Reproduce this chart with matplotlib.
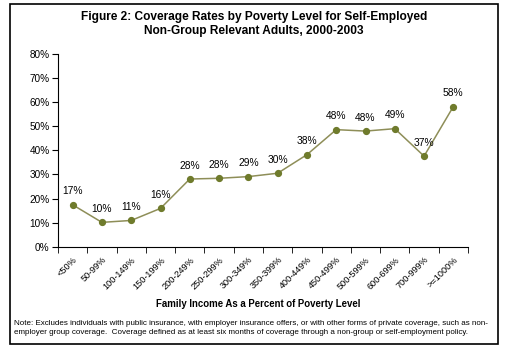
## Coverage rates by poverty level - line chart
import numpy as np
import matplotlib.pyplot as plt
from matplotlib.patches import Rectangle

plt.rcParams['font.family'] = ['Liberation Sans', 'DejaVu Sans']

## Data
categories = ['<50%', '50-99%', '100-149%', '150-199%', '200-249%', '250-299%', '300-349%',
              '350-399%', '400-449%', '450-499%', '500-599%', '600-699%', '700-999%', '>=1000%']
coverage = [17.4, 10.1, 10.9, 15.9, 28.1, 28.4, 29.1, 30.5, 38.2, 48.6, 48.0, 49.0, 37.6, 58.2]
point_labels = ['17%', '10%', '11%', '16%', '28%', '28%', '29%', '30%', '38%', '48%', '48%', '49%', '37%', '58%']
y_ticks = [0, 10, 20, 30, 40, 50, 60, 70, 80]

title = 'Figure 2: Coverage Rates by Poverty Level for Self-Employed\nNon-Group Relevant Adults, 2000-2003'
x_title = 'Family Income As a Percent of Poverty Level'
note = ('Note: Excludes individuals with public insurance, with employer insurance offers, or with other forms of private coverage, such as non-\n'
        'employer group coverage.  Coverage defined as at least six months of coverage through a non-group or self-employment policy.')

W, H = 507, 350
fig = plt.figure(figsize=(W / 100, H / 100), dpi=100)
ax = fig.add_axes([58 / W, 1 - 246.7 / H, (468 - 58) / W, (246.7 - 54) / H])

x = np.arange(len(categories))
ax.plot(x, coverage, color='#8E8E58', linewidth=1.1, marker='o', markersize=4.2,
        markerfacecolor='#6F7B2C', markeredgecolor='#6F7B2C', zorder=3)
for xi, yi, lab in zip(x, coverage, point_labels):
    ax.annotate(lab, (xi, yi), xytext=(0, 6), textcoords='offset points',
                ha='center', va='bottom', fontsize=7.4)

ax.set_xlim(-0.5, len(categories) - 0.5)
ax.set_ylim(0, 80)
ax.set_yticks(y_ticks)
ax.set_yticklabels([f'{v}%' for v in y_ticks], fontsize=7.2)
ax.set_xticks(x)
ax.set_xticklabels(categories, rotation=45, ha='right', rotation_mode='anchor', fontsize=6.6)
ax.tick_params(axis='x', length=0, pad=6)
ax.set_xticks(np.arange(-0.5, len(categories)), minor=True)
ax.tick_params(axis='x', which='minor', length=4, direction='out')
ax.tick_params(axis='y', length=4, direction='out', pad=2)
for s in ['top', 'right']:
    ax.spines[s].set_visible(False)
ax.spines['left'].set_linewidth(0.8)
ax.spines['bottom'].set_linewidth(0.8)

fig.text(254 / W, 1 - 24 / H, title, ha='center', va='center', fontsize=8.6,
         fontweight='bold', linespacing=1.2)
fig.text(258 / W, 1 - 304 / H, x_title, ha='center', va='center', fontsize=6.9, fontweight='bold')
fig.text(14 / W, 1 - 328 / H, note, ha='left', va='center', fontsize=5.75, linespacing=1.45)

fig.patches.append(Rectangle((10 / W, 1 - 344 / H), 488 / W, 340 / H, transform=fig.transFigure,
                             fill=False, edgecolor='black', linewidth=1.2))

fig.savefig('out.png', dpi=100)
